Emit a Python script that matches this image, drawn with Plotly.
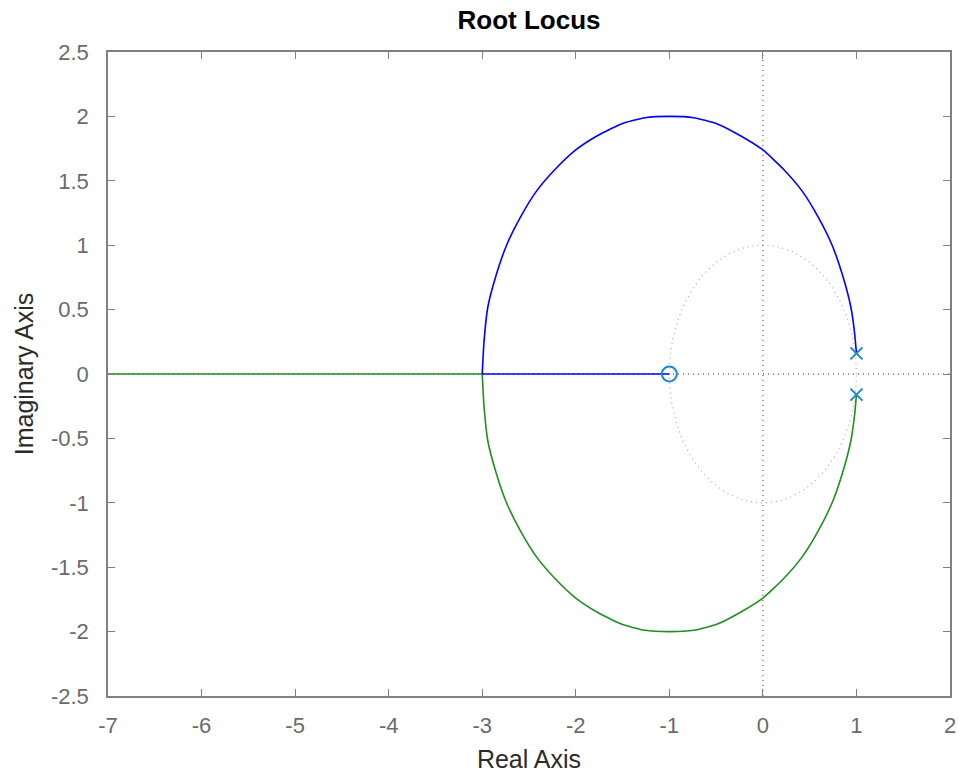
import numpy as np
import plotly.graph_objects as go

# values
poles_re = [1.0, 1.0]
poles_im = [0.16, -0.16]
zeros_re = [-1.0]
zeros_im = [0.0]

# upper arc (blue): from pole 1+0.16j over the top to the breakaway point at -3
arc_re = [1.00, 0.98, 0.94, 0.85, 0.74, 0.59, 0.42, 0.22, 0.00, -0.24, -0.48, -0.74,
          -1.00, -1.26, -1.52, -1.77, -2.00, -2.22, -2.42, -2.59, -2.74, -2.85, -2.94, -2.98, -3.00]
arc_im = [0.16, 0.32, 0.52, 0.77, 1.00, 1.22, 1.42, 1.59, 1.74, 1.85, 1.94, 1.99,
          2.00, 1.99, 1.94, 1.85, 1.74, 1.59, 1.42, 1.22, 1.00, 0.77, 0.52, 0.26, 0.00]
# real-axis parts of the two branches
blue_axis_re = [-3.00, -1.00]
green_axis_re = [-3.00, -7.00]

x_ticks = [-7, -6, -5, -4, -3, -2, -1, 0, 1, 2]
y_ticks = [-2.5, -2, -1.5, -1, -0.5, 0, 0.5, 1, 1.5, 2, 2.5]

FONT = "Liberation Sans, Arial, sans-serif"
W, H = 959, 775

fig = go.Figure()

# unit circle grid
t = np.linspace(0, 2 * np.pi, 200)
fig.add_trace(go.Scatter(x=np.cos(t), y=np.sin(t), mode="lines",
                         line=dict(color="#b0b0b0", width=1.3, dash="1px,4px"),
                         hoverinfo="skip", showlegend=False))
# dotted axis lines
fig.add_trace(go.Scatter(x=[-7, 2], y=[0, 0], mode="lines",
                         line=dict(color="#707070", width=1.3, dash="1px,4px"),
                         hoverinfo="skip", showlegend=False))
fig.add_trace(go.Scatter(x=[0, 0], y=[-2.5, 2.5], mode="lines",
                         line=dict(color="#707070", width=1.3, dash="1px,4px"),
                         hoverinfo="skip", showlegend=False))

# green branch
fig.add_trace(go.Scatter(x=arc_re, y=[-v for v in arc_im], mode="lines",
                         line=dict(color="#1f8f1f", width=1.6, shape="spline", smoothing=0.5),
                         showlegend=False))
fig.add_trace(go.Scatter(x=green_axis_re, y=[0, 0], mode="lines",
                         line=dict(color="#1f8f1f", width=1.6), showlegend=False))
# blue branch
fig.add_trace(go.Scatter(x=arc_re, y=arc_im, mode="lines",
                         line=dict(color="#0000ff", width=1.6, shape="spline", smoothing=0.5),
                         showlegend=False))
fig.add_trace(go.Scatter(x=blue_axis_re, y=[0, 0], mode="lines",
                         line=dict(color="#0000ff", width=1.6), showlegend=False))

fig.add_trace(go.Scatter(x=poles_re, y=poles_im, mode="markers",
                         marker=dict(symbol="x-thin-open", size=12, color="#1f86d0",
                                     line=dict(color="#1f86d0", width=2)),
                         showlegend=False))
fig.add_trace(go.Scatter(x=zeros_re, y=zeros_im, mode="markers",
                         marker=dict(symbol="circle-open", size=15, color="#1f86d0",
                                     line=dict(color="#1f86d0", width=2)),
                         showlegend=False))

axis_style = dict(showgrid=False, zeroline=False, showline=True, mirror="ticks",
                  automargin=False,
                  linecolor="#808080", linewidth=1.5, ticks="inside", ticklen=7,
                  tickcolor="#808080", tickfont=dict(size=22, color="#6b6b6b", family=FONT))

fig.update_xaxes(range=[-7, 2], tickvals=x_ticks, ticktext=[str(v) for v in x_ticks],
                 ticklabelstandoff=9,
                 title=dict(text="Real Axis", font=dict(size=25, color="#2b2b2b"), standoff=13),
                 **axis_style)
fig.update_yaxes(range=[-2.5, 2.5], tickvals=y_ticks, ticktext=[f"{v:g}" for v in y_ticks],
                 ticklabelstandoff=13,
                 title=dict(text="Imaginary Axis", font=dict(size=25, color="#2b2b2b"), standoff=10),
                 **axis_style)

fig.update_layout(
    width=W, height=H,
    margin=dict(l=108, r=W - 950, t=52, b=H - 696),
    paper_bgcolor="white", plot_bgcolor="white",
    font=dict(family=FONT),
    title=dict(text="<b>Root Locus</b>", x=0.5, xanchor="center", xref="paper",
               y=1 - 20 / H, yanchor="middle", font=dict(size=26, color="black")),
)

# drop the default 8px body margin so the figure sits at the page origin
fig.write_html("out.html", config={"displayModeBar": False},
               post_script="document.body.style.margin='0';")
